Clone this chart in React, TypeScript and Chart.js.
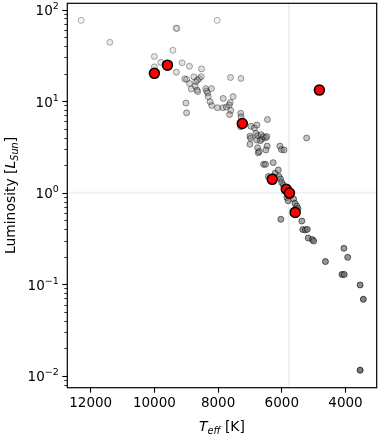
import React, { useEffect, useRef } from "react";
import { Chart, registerables } from "chart.js";
Chart.register(...registerables);

// Field stars (grey): effective temperature [K] and luminosity [L_sun]
const starTeff = [
  12300, 11400, 9320, 9290, 8030, 9420, 10000, 9800, 10000, 9130,
  9310, 8900, 8520, 9050, 8990, 8760, 8590, 8530, 8900, 8700,
  8650, 8720, 8840, 8660, 8640, 8390, 8360, 8210, 8330, 8310,
  8250, 8200, 8020, 7850, 7740, 7650, 7840, 7530, 7620, 7600,
  7640, 7610, 7280, 9010, 8990, 7290, 7280, 7290, 6970, 6860,
  6780, 6450, 7000, 6980, 6810, 6760, 6650, 6630, 6580, 6510,
  6470, 7000, 6790, 6680, 6460, 6500, 6760, 6740, 6710, 6060,
  6010, 5930, 5220, 6570, 6510, 6270, 6420, 6270, 6210, 6110,
  6090, 6040, 6000, 5950, 5840, 5800, 5630, 5585, 5530, 5590,
  5490, 6030, 5370, 5340, 5260, 5200, 5170, 5040, 5000, 4050,
  3930, 4630, 4110, 4040, 3540, 3440, 3540,
];
const starLum = [
  76.2, 43.9, 62.8, 61.9, 76.2, 35.9, 30.7, 26.5, 23.7, 26.2,
  20.7, 24.0, 22.5, 17.5, 17.3, 18.4, 17.6, 18.5, 15.6, 16.3,
  17.0, 14.6, 13.6, 13.2, 12.7, 13.7, 12.9, 13.7, 12.3, 11.2,
  9.85, 8.95, 8.47, 8.47, 8.62, 9.07, 10.7, 11.2, 9.65, 7.90,
  7.14, 18.1, 17.7, 9.53, 7.45, 7.36, 6.76, 5.26, 5.31, 5.09,
  5.48, 6.30, 4.14, 3.93, 4.45, 4.19, 4.30, 3.83, 4.09, 3.98,
  4.11, 3.38, 3.76, 3.70, 3.23, 2.93, 3.10, 2.73, 2.82, 3.23,
  2.96, 2.93, 3.96, 2.04, 2.04, 2.13, 1.50, 1.50, 1.63, 1.77,
  1.50, 1.41, 1.29, 1.21, 0.886, 0.818, 0.854, 0.766, 0.716, 0.656,
  0.672, 0.513, 0.491, 0.396, 0.392, 0.398, 0.320, 0.308, 0.297, 0.247,
  0.197, 0.177, 0.128, 0.128, 0.0983, 0.0686, 0.01154,
];

// Highlighted stars (red)
const hostTeff = [10000, 9590, 7240, 4820, 6300, 5860, 5760, 5580];
const hostLum = [20.1, 24.7, 5.7, 13.2, 1.40, 1.09, 0.99, 0.61];

const xTicks = [12000, 10000, 8000, 6000, 4000];
const yDecades = [-2, -1, 0, 1, 2];
const sunTeff = 5778;
const sunLum = 1;

const FONT = '"DejaVu Sans"';

const clamp = (v: number, lo: number, hi: number) => Math.max(lo, Math.min(hi, v));

const hrPlugin = {
  id: "hrDecor",
  beforeDatasetsDraw(chart: any) {
    const { ctx, chartArea: a, scales } = chart;
    const x = scales.x;
    const y = scales.y;
    ctx.save();
    ctx.beginPath();
    ctx.rect(a.left, a.top, a.right - a.left, a.bottom - a.top);
    ctx.clip();
    ctx.strokeStyle = "#efefef";
    ctx.lineWidth = 2;
    const sx = x.getPixelForValue(sunTeff);
    const sy = y.getPixelForValue(sunLum);
    ctx.beginPath();
    ctx.moveTo(sx, a.top);
    ctx.lineTo(sx, a.bottom);
    ctx.moveTo(a.left, sy);
    ctx.lineTo(a.right, sy);
    ctx.stroke();
    ctx.restore();
  },
  afterDraw(chart: any) {
    const { ctx, chartArea: a, scales } = chart;
    const y = scales.y;
    ctx.save();
    // frame
    ctx.strokeStyle = "#000";
    ctx.lineWidth = 1.2;
    ctx.strokeRect(a.left, a.top, a.right - a.left, a.bottom - a.top);

    // y ticks (log): major + minor
    const ymin = y.min;
    const ymax = y.max;
    for (let n = -3; n <= 2; n++) {
      for (let k = 1; k <= 9; k++) {
        const v = k * Math.pow(10, n);
        if (v < ymin || v > ymax) continue;
        const py = Math.round(y.getPixelForValue(v)) + 0.5;
        const len = k === 1 ? 5 : 3;
        ctx.lineWidth = k === 1 ? 1.1 : 0.8;
        ctx.beginPath();
        ctx.moveTo(a.left - len, py);
        ctx.lineTo(a.left, py);
        ctx.stroke();
      }
    }

    // y tick labels 10^n
    ctx.fillStyle = "#000";
    const right = a.left - 5 - 3.5;
    for (const d of yDecades) {
      const py = y.getPixelForValue(Math.pow(10, d));
      const exp = d < 0 ? "\u2212" + String(-d) : String(d);
      ctx.font = `9.5px ${FONT}`;
      const ew = ctx.measureText(exp).width;
      ctx.font = `13.5px ${FONT}`;
      const bw = ctx.measureText("10").width;
      ctx.textAlign = "left";
      ctx.textBaseline = "alphabetic";
      ctx.fillText("10", right - ew - bw, py + 5.4);
      ctx.font = `9.5px ${FONT}`;
      ctx.fillText(exp, right - ew, py - 0.5);
    }

    // x title: T_eff [K]
    const cx = (a.left + a.right) / 2;
    const by = 431;
    const parts = [
      { t: "T", f: `italic 13.9px ${FONT}`, dy: 0 },
      { t: "eff", f: `italic 9.7px ${FONT}`, dy: 2.8 },
      { t: " [K]", f: `13.9px ${FONT}`, dy: 0 },
    ];
    let total = 0;
    for (const p of parts) {
      ctx.font = p.f;
      total += ctx.measureText(p.t).width;
    }
    let px = cx - total / 2;
    for (const p of parts) {
      ctx.font = p.f;
      ctx.fillText(p.t, px, by + p.dy);
      px += ctx.measureText(p.t).width;
    }

    // y title: Luminosity [L_Sun]
    const yparts = [
      { t: "Luminosity [", f: `13.9px ${FONT}`, dy: 0 },
      { t: "L", f: `italic 13.9px ${FONT}`, dy: 0 },
      { t: "Sun", f: `italic 9.7px ${FONT}`, dy: 2.8 },
      { t: "]", f: `13.9px ${FONT}`, dy: 0 },
    ];
    let ytotal = 0;
    for (const p of yparts) {
      ctx.font = p.f;
      ytotal += ctx.measureText(p.t).width;
    }
    ctx.translate(15, (a.top + a.bottom) / 2);
    ctx.rotate(-Math.PI / 2);
    let qx = -ytotal / 2;
    for (const p of yparts) {
      ctx.font = p.f;
      ctx.fillText(p.t, qx, p.dy);
      qx += ctx.measureText(p.t).width;
    }
    ctx.restore();
  },
};

export default function App() {
  const ref = useRef<HTMLCanvasElement | null>(null);
  useEffect(() => {
    if (!ref.current) return;
    const greyFace = (c: any) => {
      const v = c.raw && c.raw.y ? c.raw.y : 1;
      const l = Math.log10(v);
      const fa = clamp(0.55 - 0.25 * l, 0.08, 0.9);
      return `rgba(110,110,110,${fa})`;
    };
    const greyEdge = (c: any) => {
      const v = c.raw && c.raw.y ? c.raw.y : 1;
      const l = Math.log10(v);
      const ea = clamp(0.5 - 0.12 * l, 0.3, 0.75);
      return `rgba(0,0,0,${ea})`;
    };
    const chart = new Chart(ref.current, {
      type: "scatter",
      data: {
        datasets: [
          {
            label: "hosts",
            order: 0,
            data: hostTeff.map((t, i) => ({ x: t, y: hostLum[i] })),
            backgroundColor: "#ff0000",
            borderColor: "#000000",
            borderWidth: 1.5,
            pointRadius: 5,
          },
          {
            label: "stars",
            order: 1,
            data: starTeff.map((t, i) => ({ x: t, y: starLum[i] })),
            backgroundColor: greyFace as any,
            borderColor: greyEdge as any,
            borderWidth: 1,
            pointRadius: 3,
          },
        ],
      },
      options: {
        responsive: false,
        devicePixelRatio: 1,
        animation: false,
        events: [],
        layout: { autoPadding: false, padding: { top: 3.3, right: 1.3, left: 0, bottom: 0 } },
        plugins: { legend: { display: false }, tooltip: { enabled: false } },
        scales: {
          x: {
            type: "linear",
            reverse: true,
            min: 3020,
            max: 12735,
            afterBuildTicks: (s: any) => {
              s.ticks = xTicks.map((v) => ({ value: v }));
            },
            afterFit: (s: any) => {
              s.height = 47.3;
            },
            grid: {
              drawOnChartArea: false,
              drawTicks: true,
              tickLength: 5,
              tickColor: "#000",
              tickWidth: 1.1,
            },
            border: { display: false },
            ticks: {
              color: "#000",
              font: { family: "DejaVu Sans", size: 13.5 },
              padding: 3,
              maxRotation: 0,
              autoSkip: false,
              callback: (v: any) => String(v),
            },
          },
          y: {
            type: "logarithmic",
            min: 0.00743,
            max: 117,
            afterFit: (s: any) => {
              s.width = 67.3;
            },
            ticks: { display: false },
            grid: { display: false },
            border: { display: false },
          },
        },
      },
      plugins: [hrPlugin],
    });
    return () => chart.destroy();
  }, []);
  return (
    <div style={{ position: "fixed", left: 0, top: 0, width: 378, height: 435, background: "#fff" }}>
      <canvas ref={ref} width={378} height={435} style={{ display: "block" }} />
    </div>
  );
}
